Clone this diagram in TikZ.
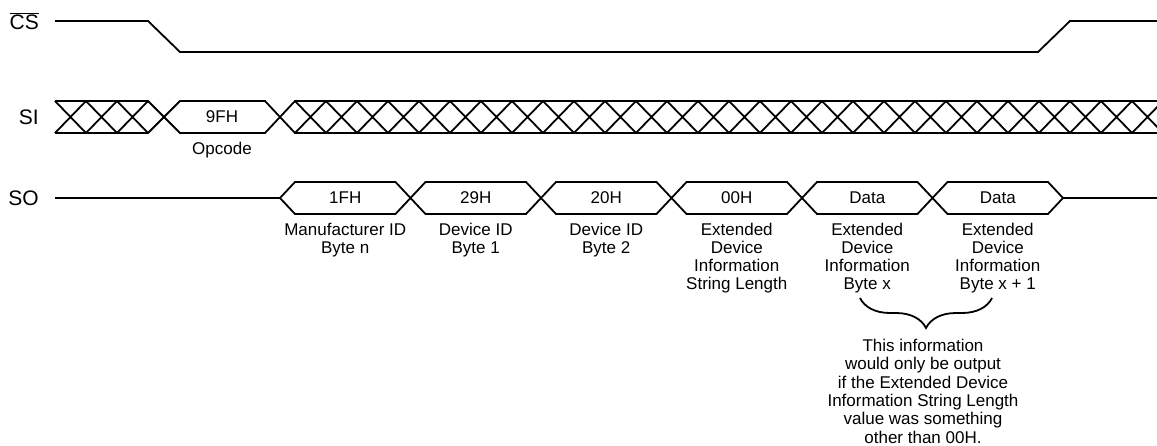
\documentclass[tikz,border=0pt]{standalone}
\usepackage{fontspec}
\setmainfont{Liberation Sans}
\usetikzlibrary{positioning,calc,decorations.pathreplacing}

\begin{document}
\begin{tikzpicture}[x=1pt,y=-1pt]
    \tikzstyle{every node}=[inner sep=0,font=\fontsize{17}{18}\selectfont]
    \tikzstyle{signame}=[anchor=east,font=\fontsize{21}{22}\selectfont]
    \tikzstyle{note}=[align=center,anchor=north]
    \tikzstyle{wave}=[line width=1.8pt]
    \useasboundingbox (0,0) rectangle (1157,445);
    {
        % signal names
        \node[signame] (cs) at (39,21) {$\overline{\hbox{CS}}$};
        \node[signame] (si) at (39,117) {SI};
        \node[signame] (so) at (39,198) {SO};

        % chip select
        \draw[wave] (55,21) -- (148,21) -- (180,52) -- (1038,52) -- (1070,21) -- (1157,21);

        % serial input
        \draw[wave] (55,101) -- (148,101) -- (180,133) -- (265,133) -- (295,101) -- (1157,101);
        \draw[wave] (55,133) -- (148,133) -- (180,101) -- (265,101) -- (295,133) -- (1157,133);
        \foreach \x in {55,86,117}
            \draw[wave] (\x,101) -- +(31,32) (\x,133) -- +(31,-32);
        \begin{scope}
            \clip (295,90) rectangle (1157,145);
            \foreach \i in {0,...,28}
                \draw[wave] ({295+31*\i},101) -- +(31,32) ({295+31*\i},133) -- +(31,-32);
        \end{scope}
        \node (opc) at (222,117) {9FH};
        \node[note,below=19pt of opc] (opclbl) {Opcode};

        % serial output
        \draw[wave] (55,198) -- (280,198);
        \draw[wave] (1063,198) -- (1157,198);
        \foreach \k in {0,...,5}
            \draw[wave] ({280+130.5*\k},198) -- +(15,-16) -- +(115.5,-16) -- +(130.5,0)
                -- +(115.5,16) -- +(15,16) -- cycle;
        \foreach \val [count=\k] in {1FH,29H,20H,00H,Data,Data}
            \node (b\k) at ({214.75+130.5*\k},198) {\val};

        \node[note,below=19pt of b1] (d1) {Manufacturer ID\\Byte n};
        \node[note,below=19pt of b2] (d2) {Device ID\\Byte 1};
        \node[note,below=19pt of b3] (d3) {Device ID\\Byte 2};
        \node[note,below=19pt of b4] (d4) {Extended\\Device\\Information\\String Length};
        \node[note,below=19pt of b5] (d5) {Extended\\Device\\Information\\Byte x};
        \node[note,below=19pt of b6] (d6) {Extended\\Device\\Information\\Byte x + 1};

        % brace and remark
        \coordinate (brr) at (992,298);
        \coordinate (brl) at (860,298);
        \draw[wave,decorate,decoration={brace,amplitude=30pt}] (brr) -- (brl);
        \node[note,font=\fontsize{17}{18.3}\selectfont] (info) at (923,339)
            {This information\\would only be output\\if the Extended Device\\Information String Length\\value was something\\other than 00H.};
    }
\end{tikzpicture}
\end{document}
